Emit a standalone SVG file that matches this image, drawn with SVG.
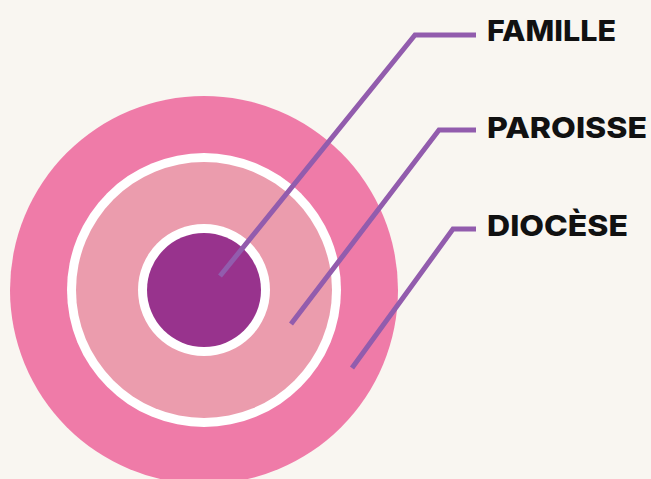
<svg xmlns="http://www.w3.org/2000/svg" width="651" height="479" viewBox="0 0 651 479">
<style>
.lbl{font-family:Inter,"Liberation Sans",Arial,sans-serif;font-weight:800;font-size:29px;fill:#111}
.conn{fill:none;stroke:#925cad;stroke-width:5;stroke-linejoin:miter}
</style>
<rect width="651" height="479" fill="#f9f6f1"/>
<g id="diocese">
<circle cx="204" cy="290" r="194" fill="#ef7ba8"/>
</g>
<g id="paroisse">
<circle cx="204" cy="290" r="137" fill="#ffffff"/>
<circle cx="204" cy="290" r="128" fill="#eb9cad"/>
</g>
<g id="famille">
<circle cx="204" cy="290" r="66" fill="#ffffff"/>
<circle cx="204" cy="290" r="57" fill="#98338d"/>
</g>
<g id="connectors">
<polyline class="conn" points="220,276 415,35 476,35"/>
<polyline class="conn" points="291,324 439,130 476,130"/>
<polyline class="conn" points="352,368 453,229 476,229"/>
</g>
<g id="label-famille"><text class="lbl" x="487" y="41" textLength="129" lengthAdjust="spacingAndGlyphs">FAMILLE</text></g>
<g id="label-paroisse"><text class="lbl" x="487" y="138" textLength="160" lengthAdjust="spacingAndGlyphs">PAROISSE</text></g>
<g id="label-diocese"><text class="lbl" x="487" y="236" textLength="141" lengthAdjust="spacingAndGlyphs">DIOCÈSE</text></g>
</svg>
